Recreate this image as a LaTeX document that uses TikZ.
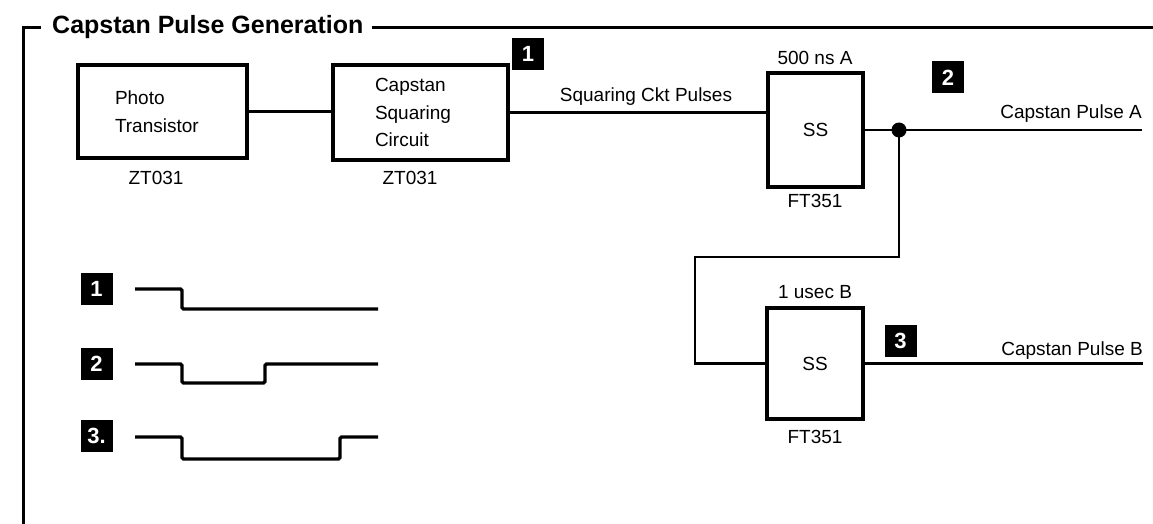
\documentclass[tikz,border=0pt]{standalone}
\usepackage{fontspec}
\setmainfont{Liberation Sans}
\begin{document}
\begin{tikzpicture}[x=1pt,y=-1pt,
  box/.style={draw, line width=3.5pt, inner sep=0pt, align=left, font=\fontsize{19}{27.5}\selectfont},
  lbl/.style={font=\fontsize{19}{22}\selectfont, inner sep=0pt},
  wire/.style={line width=2.8pt},
  marker/.style={fill=black, text=white, font=\bfseries\fontsize{22}{22}\selectfont, minimum size=32pt, inner sep=0pt},
  frameline/.style={line width=3pt},
  wave/.style={line width=3.2pt, rounded corners=1.5pt}]
\fill[white] (0,0) rectangle (1153,524);
\useasboundingbox (0,0) rectangle (1153,524);

% frame and title
\node[anchor=base west, inner sep=0pt, font=\bfseries\fontsize{25}{28}\selectfont] (title) at (52,34) {Capstan Pulse Generation};
\coordinate (fbl) at (23,524);
\coordinate (ftl) at (23,28);
\coordinate (ft1) at (41,28);
\coordinate (ftr) at (1153,28);
\draw[frameline] (fbl) -- (ftl) -- (ft1);
\draw[frameline] ([xshift=8pt]title.east |- ftr) -- (ftr);

% top chain
\node[box, minimum width=169pt, minimum height=93pt, text width=95pt] (pt) at (162.5,111.5) {Photo\\Transistor};
\node[lbl, anchor=base] (ptid) at (156,184) {ZT031};
\node[box, minimum width=175pt, minimum height=95pt, text width=91pt] (sq) at (420.5,112.5) {Capstan\\Squaring\\Circuit};
\node[lbl, anchor=base] (sqid) at (410,184) {ZT031};
\node[marker] (m1) at (528,54) {1};

\node[box, minimum width=95pt, minimum height=114pt, align=center] (ssa) at (815.5,130) {SS};
\node[lbl, anchor=base] (ssatop) at (815,65) {500 ns A};
\node[lbl, anchor=base] (ssaid) at (815,207) {FT351};
\node[marker] (m2) at (948,77.5) {2};

\node[box, minimum width=96pt, minimum height=111pt, align=center] (ssb) at (815,363.5) {SS};
\node[lbl, anchor=base] (ssbtop) at (815,298) {1 usec B};
\node[lbl, anchor=base] (ssbid) at (815,443) {FT351};
\node[marker] (m3) at (900.5,340.5) {3};

\draw[wire] (pt.east) -- (pt.east -| sq.west);
\draw[wire] (sq.east) -- (sq.east -| ssa.west);
\node[lbl, anchor=base] (sqlbl) at (646,102) {Squaring Ckt Pulses};

\coordinate (outA) at (1142,130);
\coordinate (dotc) at (899,130);
\draw[wire] (ssa.east) -- (outA);
\fill (dotc) circle[radius=7.5pt];
\node[lbl, anchor=base east] (pa) at (1142,118) {Capstan Pulse A};

\coordinate (bend) at (695,257);
\draw[wire] (dotc) -- (dotc |- bend) -- (bend) |- (ssb.west);

\coordinate (outB) at (1143,363.5);
\draw[wire] (ssb.east) -- (outB);
\node[lbl, anchor=base east] (pb) at (1143,355) {Capstan Pulse B};

% waveforms
\node[marker] (w1) at (96.5,289) {1};
\node[marker] (w2) at (96.5,364) {2};
\node[marker] (w3) at (96.5,436) {3.};
\draw[wave] (135,289) -- (182,289) -- (182,309) -- (378,309);
\draw[wave] (135,364) -- (182,364) -- (182,383) -- (265,383) -- (265,364) -- (378,364);
\draw[wave] (135,437) -- (182,437) -- (182,459) -- (340,459) -- (340,437) -- (378,437);
\end{tikzpicture}
\end{document}
